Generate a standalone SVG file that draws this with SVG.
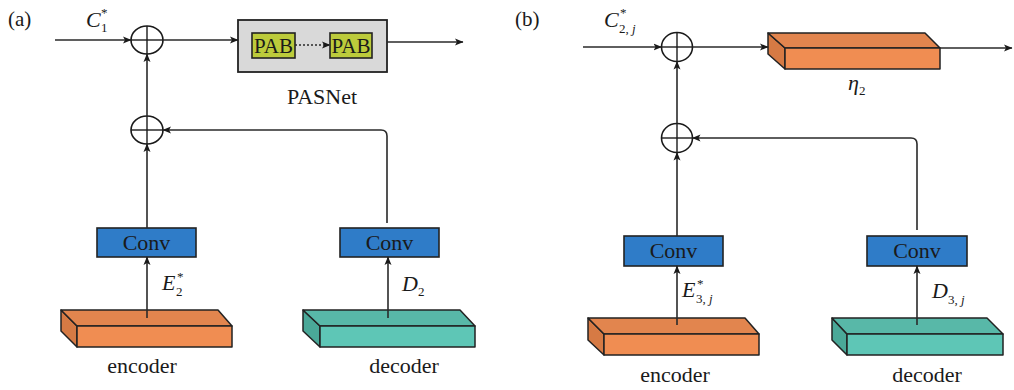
<svg xmlns="http://www.w3.org/2000/svg" width="1014" height="390" viewBox="0 0 1014 390">
<defs>
<marker id="ah" markerWidth="9" markerHeight="8" refX="8" refY="4" orient="auto" markerUnits="userSpaceOnUse">
<path d="M0,0.5 L8.5,4 L0,7.5 L2,4 z" fill="#1a1a1a"/>
</marker>
</defs>
<style>
.ln{fill:none;stroke:#2a2a2a;stroke-width:1.6}
.dot{fill:none;stroke:#2a2a2a;stroke-width:1.4;stroke-dasharray:2 2}
.sum{fill:#fff;stroke:#1a1a1a;stroke-width:1.6}
.cross{stroke:#1a1a1a;stroke-width:1.4}
.conv{fill:#2f7cc8;stroke:#222;stroke-width:1.6}
.pas{fill:#d9d9d9;stroke:#222;stroke-width:1.8}
.pab{fill:#bccb3b;stroke:#222;stroke-width:1.6}
.of{fill:#f08d52;stroke:#222;stroke-width:1.5;stroke-linejoin:round}
.ot{fill:#e2854e;stroke:#222;stroke-width:1.5;stroke-linejoin:round}
.os{fill:#d67a44;stroke:#222;stroke-width:1.5;stroke-linejoin:round}
.tf{fill:#5ec6b6;stroke:#222;stroke-width:1.5;stroke-linejoin:round}
.tt{fill:#58b8a8;stroke:#222;stroke-width:1.5;stroke-linejoin:round}
.ts{fill:#4aa898;stroke:#222;stroke-width:1.5;stroke-linejoin:round}
.t{font-size:22px;text-anchor:middle;fill:#1a1a1a}
.m{font-size:22px;font-style:italic;fill:#1a1a1a}
.sb{font-size:13px;font-style:normal}
.sj{font-size:13px;font-style:italic}
.sp{font-size:13px;font-style:normal}
.lab{font-size:21px;fill:#1a1a1a}
</style>
<g font-family="'Liberation Serif', 'Times New Roman', serif">

<!-- Panel labels -->
<text class="lab" x="8" y="26">(a)</text>
<text class="lab" x="515" y="26">(b)</text>

<!-- ===== Panel (a) ===== -->
<g id="a-sum1">
<ellipse class="sum" cx="147" cy="40" rx="16" ry="14"/>
<line class="cross" x1="131" y1="40" x2="163" y2="40"/>
<line class="cross" x1="147" y1="26" x2="147" y2="54"/>
</g>
<g id="a-sum2">
<ellipse class="sum" cx="147" cy="130" rx="16" ry="14"/>
<line class="cross" x1="131" y1="130" x2="163" y2="130"/>
<line class="cross" x1="147" y1="116" x2="147" y2="144"/>
</g>
<g id="a-pasnet">
<rect class="pas" x="238" y="20" width="149" height="52"/>
<rect class="pab" x="252" y="33" width="43" height="25"/>
<text class="t" x="273.5" y="53" style="font-size:21px">PAB</text>
<rect class="pab" x="330" y="33" width="42" height="25"/>
<text class="t" x="351" y="53" style="font-size:21px">PAB</text>
<text class="t" x="322" y="104">PASNet</text>
</g>
<g id="a-conv1">
<rect class="conv" x="97" y="228" width="99" height="29"/>
<text class="t" x="146.5" y="250">Conv</text>
</g>
<g id="a-conv2">
<rect class="conv" x="340" y="228" width="99" height="29"/>
<text class="t" x="389.5" y="250">Conv</text>
</g>
<g id="a-encoder">
<polygon class="os" points="61,310 77,326 77,347 61,331"/>
<polygon class="ot" points="61,310 218,310 232,326 77,326"/>
<rect class="of" x="77" y="326" width="155" height="21"/>
<text class="t" x="142" y="373">encoder</text>
</g>
<g id="a-decoder">
<polygon class="ts" points="303,310 320,326 320,347 303,331"/>
<polygon class="tt" points="303,310 460,310 475,326 320,326"/>
<rect class="tf" x="320" y="326" width="155" height="21"/>
<text class="t" x="404" y="373">decoder</text>
</g>
<g id="a-labels">
<text class="m" x="86" y="27">C<tspan class="sb" x="101" y="32">1</tspan><tspan class="sp" x="101" y="17">*</tspan></text>
<text class="m" x="162" y="290">E<tspan class="sb" x="176" y="296">2</tspan><tspan class="sp" x="177" y="281">*</tspan></text>
<text class="m" x="402" y="291">D<tspan class="sb" x="418" y="296">2</tspan></text>
</g>

<!-- ===== Panel (b) ===== -->
<g id="b-sum1">
<ellipse class="sum" cx="677" cy="47" rx="15.5" ry="14.5"/>
<line class="cross" x1="661.5" y1="47" x2="692.5" y2="47"/>
<line class="cross" x1="677" y1="32.5" x2="677" y2="61.5"/>
</g>
<g id="b-sum2">
<ellipse class="sum" cx="677" cy="138" rx="15.5" ry="14.5"/>
<line class="cross" x1="661.5" y1="138" x2="692.5" y2="138"/>
<line class="cross" x1="677" y1="123.5" x2="677" y2="152.5"/>
</g>
<g id="b-eta">
<polygon class="os" points="768,33 785,48 785,69 768,54"/>
<polygon class="ot" points="768,33 925,33 940,48 785,48"/>
<rect class="of" x="785" y="48" width="155" height="21"/>
<text class="m" x="848" y="90">η<tspan class="sb" x="859" y="95">2</tspan></text>
</g>
<g id="b-conv1">
<rect class="conv" x="624" y="236" width="99" height="30"/>
<text class="t" x="673.5" y="258">Conv</text>
</g>
<g id="b-conv2">
<rect class="conv" x="867" y="236" width="100" height="30"/>
<text class="t" x="917" y="258">Conv</text>
</g>
<g id="b-encoder">
<polygon class="os" points="588,318 604,334 604,355 588,340"/>
<polygon class="ot" points="588,318 745,318 759,334 604,334"/>
<rect class="of" x="604" y="334" width="155" height="21"/>
<text class="t" x="675" y="382">encoder</text>
</g>
<g id="b-decoder">
<polygon class="ts" points="832,318 847,334 847,355 832,340"/>
<polygon class="tt" points="832,318 987,318 1003,334 847,334"/>
<rect class="tf" x="847" y="334" width="156" height="21"/>
<text class="t" x="927" y="382">decoder</text>
</g>
<g id="b-labels">
<text class="m" x="604" y="27">C<tspan class="sb" x="619" y="33">2,</tspan><tspan class="sj" x="632" y="33">j</tspan><tspan class="sp" x="620" y="17">*</tspan></text>
<text class="m" x="682" y="297">E<tspan class="sb" x="696" y="303">3,</tspan><tspan class="sj" x="709" y="303">j</tspan><tspan class="sp" x="697" y="288">*</tspan></text>
<text class="m" x="932" y="298">D<tspan class="sb" x="948" y="304">3,</tspan><tspan class="sj" x="961" y="304">j</tspan></text>
</g>

<!-- ===== Connectors ===== -->
<g id="connectors">
<line class="ln" x1="55" y1="40" x2="131" y2="40" marker-end="url(#ah)"/>
<line class="ln" x1="163" y1="40" x2="238" y2="40" marker-end="url(#ah)"/>
<line class="dot" x1="295" y1="45" x2="330" y2="45" marker-end="url(#ah)"/>
<line class="ln" x1="387" y1="42" x2="463" y2="42" marker-end="url(#ah)"/>
<line class="ln" x1="147" y1="116" x2="147" y2="54" marker-end="url(#ah)"/>
<path class="ln" d="M387,223 V136 Q387,130 381,130 H163" marker-end="url(#ah)"/>
<line class="ln" x1="147" y1="228" x2="147" y2="144" marker-end="url(#ah)"/>
<line class="ln" x1="147" y1="318" x2="147" y2="257" marker-end="url(#ah)"/>
<line class="ln" x1="388" y1="318" x2="388" y2="257" marker-end="url(#ah)"/>

<line class="ln" x1="583" y1="47" x2="661.5" y2="47" marker-end="url(#ah)"/>
<line class="ln" x1="692.5" y1="47" x2="768" y2="47" marker-end="url(#ah)"/>
<line class="ln" x1="940" y1="48" x2="1012" y2="48" marker-end="url(#ah)"/>
<line class="ln" x1="677" y1="123.5" x2="677" y2="61.5" marker-end="url(#ah)"/>
<path class="ln" d="M917,230 V144 Q917,138 911,138 H692.5" marker-end="url(#ah)"/>
<line class="ln" x1="677" y1="236" x2="677" y2="152.5" marker-end="url(#ah)"/>
<line class="ln" x1="677" y1="325" x2="677" y2="266" marker-end="url(#ah)"/>
<line class="ln" x1="917" y1="325" x2="917" y2="266" marker-end="url(#ah)"/>
</g>
</g>
</svg>
